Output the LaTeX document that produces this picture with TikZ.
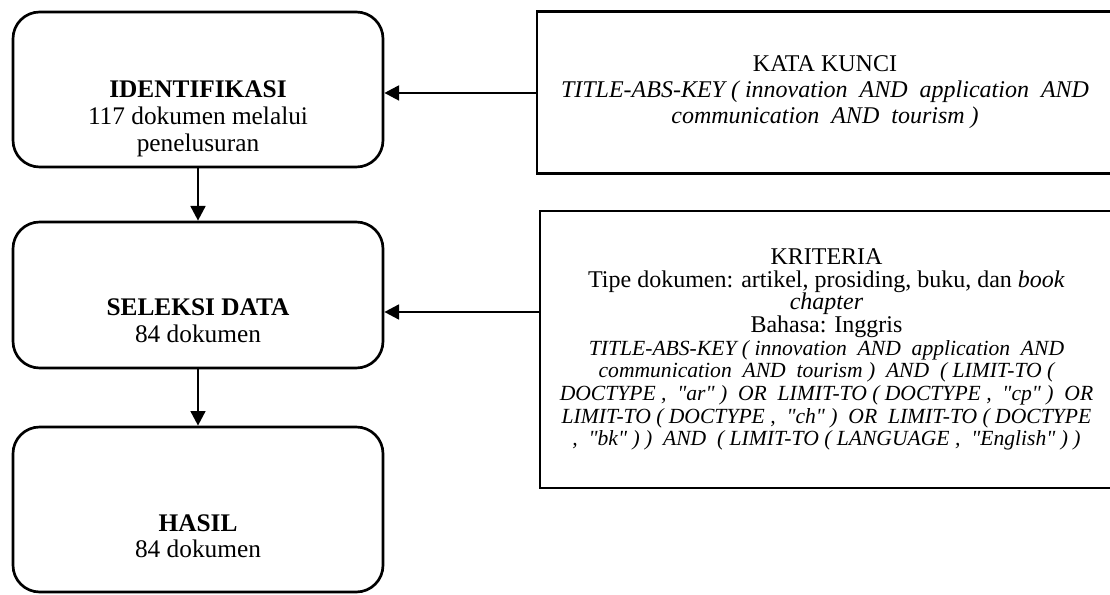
\documentclass[tikz,border=0pt]{standalone}
\usepackage{fontspec}
\setmainfont{Liberation Serif}
\newfontfamily\qryfont{Liberation Serif}
\usetikzlibrary{arrows.meta, positioning}

\newcommand{\qry}{\qryfont\fontsize{16.2}{17}\selectfont\itshape}

\begin{document}
\begin{tikzpicture}[x=0.75pt,y=-0.75pt,
          stage/.style={draw,line width=2pt,rounded corners=20pt,
                        minimum width=277.5pt},
          lbl/.style={align=center,font=\fontsize{19}{20}\selectfont},
          frame/.style={draw,line width=2pt,align=center},
          flow/.style={-{Triangle[length=11pt,width=11pt]},line width=2pt}]
  \useasboundingbox (0,0) rectangle (1110,595);
  \node[stage,minimum height=116.25pt](ident) at (198,89.5) {};
  \node[stage,minimum height=109.5pt](seleksi) at (198,295) {};
  \node[stage,minimum height=123.75pt](hasil) at (198,509.5) {};
  \node[lbl](identtxt) at ([yshift=-22pt]ident.center)
    {\textbf{IDENTIFIKASI}\\117 dokumen melalui\\penelusuran};
  \node[lbl](seleksitxt) at ([yshift=-19.5pt]seleksi.center)
    {\textbf{SELEKSI DATA}\\84 dokumen};
  \node[lbl](hasiltxt) at ([yshift=-20pt]hasil.center)
    {\textbf{HASIL}\\84 dokumen};
  \node[frame,minimum width=432pt,minimum height=121.5pt,
        font=\fontsize{18}{19.5}\selectfont](kunci) at (825,92.5)
    {KATA KUNCI\\
     \textit{TITLE-ABS-KEY ( innovation\ \ AND\ \ application\ \ AND}\\
     \textit{communication\ \ AND\ \ tourism )}};
  \node[frame,minimum width=429.75pt,minimum height=207.75pt,
        font=\fontsize{18}{17}\selectfont](kriteria) at (826.5,349.5)
    {KRITERIA\\
     Tipe dokumen: artikel, prosiding, buku, dan \textit{book}\\
     \textit{chapter}\\
     Bahasa: Inggris\\
     \qry TITLE-ABS-KEY ( innovation\ \ AND\ \ application\ \ AND\\
     \qry communication\ \ AND\ \ tourism )\ \ AND\ \ ( LIMIT-TO (\\
     \qry DOCTYPE ,\ \ "ar" )\ \ OR\ \ LIMIT-TO ( DOCTYPE ,\ \ "cp" )\ \ OR\\
     \qry LIMIT-TO ( DOCTYPE ,\ \ "ch" )\ \ OR\ \ LIMIT-TO ( DOCTYPE\\
     \qry ,\ \ "bk" ) )\ \ AND\ \ ( LIMIT-TO ( LANGUAGE ,\ \ "English" ) )};
  \coordinate (identin) at ([yshift=-2.6pt]ident.east);
  \coordinate (seleksiin) at ([yshift=-12.75pt]seleksi.east);
  \draw[flow](ident)--(seleksi);
  \draw[flow](seleksi)--(hasil);
  \draw[flow](kunci.west |- identin)--(identin);
  \draw[flow](kriteria.west |- seleksiin)--(seleksiin);
\end{tikzpicture}
\end{document}
